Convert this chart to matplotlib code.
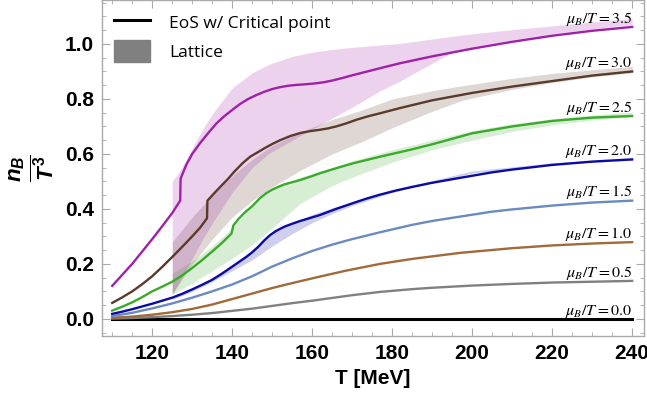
import matplotlib
matplotlib.use("Agg")
import matplotlib.pyplot as plt
from matplotlib.lines import Line2D
from matplotlib.patches import Patch
from matplotlib.ticker import MultipleLocator

plt.rcParams["mathtext.fontset"] = "custom"
plt.rcParams["mathtext.rm"] = "Liberation Sans:bold"
plt.rcParams["mathtext.it"] = "Liberation Sans:bold:italic"
plt.rcParams["mathtext.bf"] = "Liberation Sans:bold"

# === EoS curves, n_B/T^3 vs T at fixed mu_B/T ===
T_00 = [110, 240]
nB_00 = [0.0, 0.0]

T_05 = [110, 115, 120, 125, 130, 135, 140, 145, 150, 155, 160, 165, 170, 177, 185, 190, 200, 210, 220, 230, 240]
nB_05 = [0.001, 0.003, 0.006, 0.010, 0.015, 0.021, 0.029, 0.037, 0.047, 0.057, 0.066, 0.076, 0.086, 0.098, 0.108, 0.113, 0.121, 0.127, 0.132, 0.135, 0.138]

T_10 = [110, 115, 120, 125, 130, 135, 140, 145, 150, 155, 162, 168.7, 177, 185, 197, 210, 220, 230, 240]
nB_10 = [0.004, 0.008, 0.015, 0.024, 0.036, 0.052, 0.072, 0.092, 0.112, 0.130, 0.154, 0.176, 0.200, 0.218, 0.240, 0.257, 0.267, 0.274, 0.279]

T_15 = [110, 115, 120, 125, 130, 135, 140, 145, 150, 155, 160, 165, 170, 177, 185, 190, 197, 205, 210, 220, 230, 240]
nB_15 = [0.010, 0.022, 0.038, 0.056, 0.077, 0.100, 0.125, 0.155, 0.190, 0.220, 0.247, 0.270, 0.290, 0.315, 0.342, 0.356, 0.372, 0.390, 0.398, 0.412, 0.423, 0.430]

T_20 = [110, 112.5, 115, 117.5, 120, 122.5, 125, 127.5, 130, 132.5, 135, 137.5, 140, 142, 143.5, 145, 146.5, 148, 149.5,
        151, 153, 155, 157, 159.5, 162, 166, 170, 173.5, 177, 181, 185, 190, 197, 205, 210, 220, 230, 240]
nB_20 = [0.018, 0.026, 0.035, 0.045, 0.055, 0.066, 0.077, 0.091, 0.107, 0.124, 0.142, 0.165, 0.190, 0.210, 0.225, 0.242, 0.262, 0.285, 0.305,
         0.320, 0.335, 0.346, 0.356, 0.367, 0.378, 0.400, 0.420, 0.437, 0.452, 0.467, 0.480, 0.495, 0.513, 0.533, 0.543, 0.560, 0.572, 0.580]

T_25 = [110, 112.5, 115, 117.5, 120, 122.5, 125, 127.5, 130, 132.5, 135, 137.5, 139.8, 140.3, 141.5, 143, 145, 147, 148.5, 150,
        151.5, 153, 155, 157, 159.5, 162, 166, 170, 177, 184.5, 190, 200, 210, 220, 230, 240]
nB_25 = [0.030, 0.044, 0.060, 0.079, 0.100, 0.117, 0.135, 0.158, 0.185, 0.214, 0.245, 0.277, 0.310, 0.340, 0.362, 0.385, 0.410, 0.440, 0.457, 0.470,
         0.480, 0.489, 0.497, 0.505, 0.517, 0.530, 0.548, 0.565, 0.590, 0.615, 0.635, 0.675, 0.700, 0.720, 0.732, 0.738]

T_30 = [110, 112.5, 115, 117.5, 120, 122.5, 125, 127.5, 130, 132, 133.7, 133.8, 135.5, 137, 139, 140.5, 142.5, 144.5, 146.5, 148,
        150, 152, 154.5, 157, 159.5, 162, 164, 166, 168.5, 171, 174, 177, 182, 190, 200, 210, 220, 230, 240]
nB_30 = [0.058, 0.078, 0.100, 0.126, 0.155, 0.189, 0.225, 0.262, 0.300, 0.332, 0.366, 0.430, 0.457, 0.480, 0.510, 0.535, 0.565, 0.590, 0.607, 0.620,
         0.636, 0.650, 0.665, 0.676, 0.683, 0.688, 0.693, 0.700, 0.711, 0.724, 0.737, 0.748, 0.767, 0.795, 0.822, 0.845, 0.865, 0.885, 0.900]

T_35 = [110, 112.5, 115, 117.5, 120, 122.5, 125, 127, 127.1, 128.5, 130, 132, 134, 136, 138, 140, 142, 144, 146, 148, 150,
        152, 154, 156, 158, 161, 163, 165, 167.5, 170, 173.5, 177, 182, 190, 200, 210, 220, 230, 240]
nB_35 = [0.120, 0.160, 0.200, 0.245, 0.290, 0.337, 0.385, 0.430, 0.510, 0.560, 0.600, 0.640, 0.676, 0.710, 0.737, 0.760, 0.782, 0.800, 0.814, 0.826, 0.836,
         0.843, 0.848, 0.851, 0.853, 0.857, 0.861, 0.867, 0.876, 0.886, 0.899, 0.912, 0.930, 0.955, 0.983, 1.008, 1.030, 1.048, 1.062]

# === Lattice bands (lower / upper) ===
Tb_20 = [125, 130, 135, 140, 145, 150, 155, 160, 165, 170, 180, 200, 220, 240]
lo_20 = [0.070, 0.100, 0.135, 0.175, 0.215, 0.265, 0.310, 0.350, 0.383, 0.412, 0.460, 0.530, 0.562, 0.577]
hi_20 = [0.082, 0.112, 0.148, 0.196, 0.250, 0.315, 0.348, 0.380, 0.404, 0.424, 0.468, 0.538, 0.568, 0.584]

Tb_25 = [125, 130, 135, 140, 145, 150, 157, 165, 170, 180, 190, 200, 210, 220, 230, 240]
lo_25 = [0.090, 0.130, 0.175, 0.220, 0.270, 0.330, 0.420, 0.485, 0.515, 0.570, 0.615, 0.650, 0.682, 0.706, 0.723, 0.735]
hi_25 = [0.165, 0.210, 0.265, 0.330, 0.415, 0.475, 0.515, 0.550, 0.575, 0.615, 0.650, 0.685, 0.710, 0.728, 0.742, 0.752]

Tb_30 = [125, 130, 135, 140, 145, 150, 157, 165, 172.5, 180, 190, 197.5, 210, 220, 230, 240]
lo_30 = [0.090, 0.200, 0.290, 0.370, 0.430, 0.480, 0.540, 0.600, 0.645, 0.695, 0.755, 0.795, 0.835, 0.860, 0.880, 0.895]
hi_30 = [0.280, 0.370, 0.450, 0.520, 0.580, 0.630, 0.680, 0.725, 0.760, 0.800, 0.830, 0.848, 0.875, 0.893, 0.906, 0.918]

Tb_35 = [125, 127, 130, 133, 136, 140, 145, 149, 155, 160, 165, 170, 177, 182, 185, 195, 200, 210, 220, 230, 240]
lo_35 = [0.090, 0.140, 0.220, 0.300, 0.370, 0.460, 0.550, 0.600, 0.650, 0.690, 0.730, 0.770, 0.830, 0.865, 0.890, 0.970, 0.990, 1.015, 1.037, 1.055, 1.070]
hi_35 = [0.500, 0.540, 0.620, 0.700, 0.765, 0.840, 0.895, 0.925, 0.955, 0.970, 0.980, 0.988, 0.996, 1.002, 1.008, 1.028, 1.037, 1.052, 1.066, 1.080, 1.093]

mu_labels = ["0.0", "0.5", "1.0", "1.5", "2.0", "2.5", "3.0", "3.5"]
colors = ["#000000", "#808080", "#a06a3a", "#6a8ac0", "#0a0aa5", "#3aaa2a", "#5a3a2a", "#a020a8"]

curves = [(T_00, nB_00), (T_05, nB_05), (T_10, nB_10), (T_15, nB_15),
          (T_20, nB_20), (T_25, nB_25), (T_30, nB_30), (T_35, nB_35)]
bands = [(Tb_20, lo_20, hi_20, colors[4]), (Tb_25, lo_25, hi_25, colors[5]),
         (Tb_30, lo_30, hi_30, colors[6]), (Tb_35, lo_35, hi_35, colors[7])]

fig = plt.figure(figsize=(6.47, 3.97), dpi=100)
ax = fig.add_axes([0.158, 0.154, 0.837, 0.846])

for Tb, lo, hi, c in bands:
    ax.fill_between(Tb, lo, hi, color=c, alpha=0.2, lw=0, zorder=1)

for i, ((T, nB), c) in enumerate(zip(curves, colors)):
    lw = 2.2 if i == 0 else 1.7
    ax.plot(T, nB, color=c, lw=lw, zorder=3, solid_joinstyle="round")
    ax.annotate(r"$\mu_B/T = %s$" % mu_labels[i], xy=(T[-1], nB[-1]),
                xytext=(0, 3), textcoords="offset points", ha="right",
                va="baseline", fontsize=11.5, math_fontfamily="stix", zorder=4)

ax.set_xlim(107.5, 242.9)
ax.set_ylim(-0.062, 1.16)
ax.xaxis.set_major_locator(MultipleLocator(20))
ax.xaxis.set_minor_locator(MultipleLocator(5))
ax.yaxis.set_major_locator(MultipleLocator(0.2))
ax.yaxis.set_minor_locator(MultipleLocator(0.05))
ax.set_xticks([120, 140, 160, 180, 200, 220, 240])
ax.set_yticks([0.0, 0.2, 0.4, 0.6, 0.8, 1.0])
ax.set_yticklabels(["0.0", "0.2", "0.4", "0.6", "0.8", "1.0"])
ax.tick_params(which="both", direction="in", top=True, right=True, color="#aaaaaa")
ax.tick_params(which="major", length=6, width=0.8, pad=6)
ax.tick_params(which="minor", length=3, width=0.6)
for lab in ax.get_xticklabels() + ax.get_yticklabels():
    lab.set_fontfamily("Liberation Sans")
    lab.set_fontweight("bold")
    lab.set_fontsize(15)
for sp in ax.spines.values():
    sp.set_color("#aaaaaa")
    sp.set_linewidth(1.0)

ax.set_xlabel("T [MeV]", fontfamily="Liberation Sans", fontweight="bold", fontsize=15, labelpad=4)
ax.set_ylabel(r"$\frac{n_B}{T^3}$", fontsize=23, labelpad=6)

handles = [Line2D([], [], color="black", lw=2.2), Patch(color="#808080")]
ax.legend(handles, ["EoS w/ Critical point", "Lattice"], loc="upper left",
          frameon=False, prop={"family": "Open Sans", "size": 12.5},
          handlelength=2.1, handleheight=1.6, handletextpad=1.1,
          borderaxespad=0.25, labelspacing=0.35)

fig.savefig("out.png", dpi=100)
